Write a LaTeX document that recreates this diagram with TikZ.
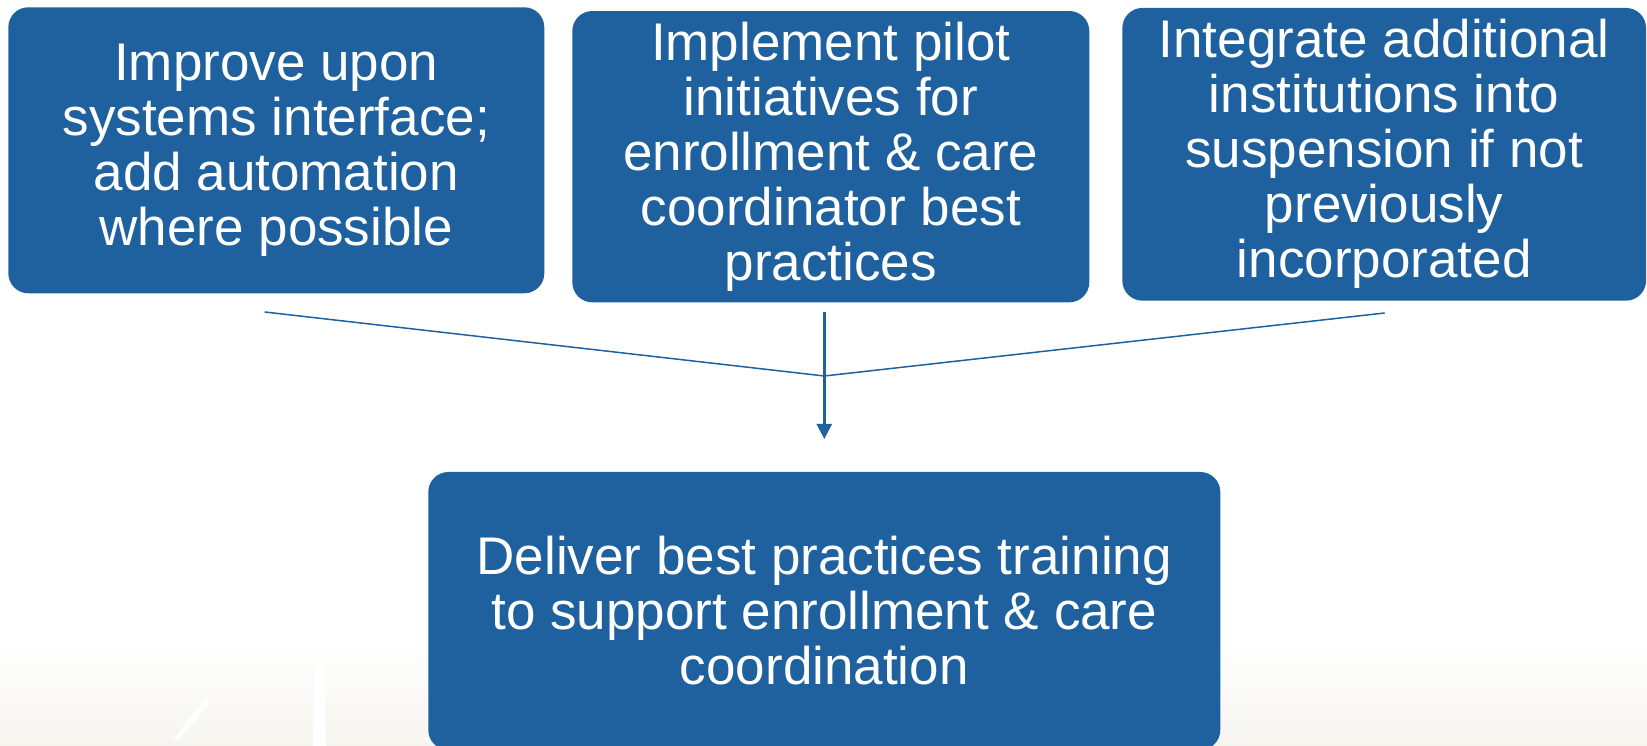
\documentclass[tikz,border=0pt]{standalone}
\usepackage{fontspec}
\setmainfont{Liberation Sans}
\usepackage{xcolor}
\usepackage{tikz}
\usetikzlibrary{arrows.meta}
\definecolor{boxblue}{HTML}{1F619E}
\definecolor{floor}{HTML}{F6F5F0}
\tikzset{
  stepbox/.style={fill=boxblue, draw=none, rounded corners=20pt, text=white,
    align=center, inner sep=0pt, font=\fontsize{53}{55}\selectfont},
  feed/.style={draw=boxblue, line width=1.5pt},
  flow/.style={draw=boxblue, line width=2.4pt, -{Triangle[width=15pt,length=15pt]}}
}

\begin{document}
\begin{tikzpicture}[x=1pt, y=1pt]
  \useasboundingbox (0,0) rectangle (1647,746);
  \clip (0,0) rectangle (1647,746);

  % faint floor at the bottom
  \shade[top color=white, bottom color=floor] (0,0) rectangle (1647,106);
  \fill[white] (173,6) -- (179,6) -- (210,44) -- (204,46) -- cycle;
  \fill[white] (313,0) -- (326,0) -- (324,84) -- (314,84) -- cycle;

  % three steps on top
  \node[stepbox, minimum width=536pt, minimum height=286pt] (improve) at (276.3,595.7)
    {Improve upon\\systems interface;\\add automation\\where possible};
  \node[stepbox, minimum width=517pt, minimum height=291.3pt] (pilot) at (830.8,589.3)
    {Implement pilot\\initiatives for\\enrollment \& care\\coordinator best\\practices};
  \node[stepbox, minimum width=523.7pt, minimum height=292.7pt] (integrate) at (1384.2,591.7)
    {Integrate additional\\institutions into\\suspension if not\\previously\\incorporated};

  % result
  \node[stepbox, minimum width=792pt, minimum height=278pt] (deliver) at (824.3,135)
    {Deliver best practices training\\to support enrollment \& care\\coordination};

  % connectors
  \coordinate (from1) at (264.7,434);
  \coordinate (from2) at (824.3,434);
  \coordinate (from3) at (1384.7,433);
  \coordinate (join) at (824.3,370);
  \coordinate (tip) at (824.3,307);
  \draw[feed] (from1) -- (join) -- (from3);
  \draw[flow] (from2) -- (tip);
\end{tikzpicture}
\end{document}
